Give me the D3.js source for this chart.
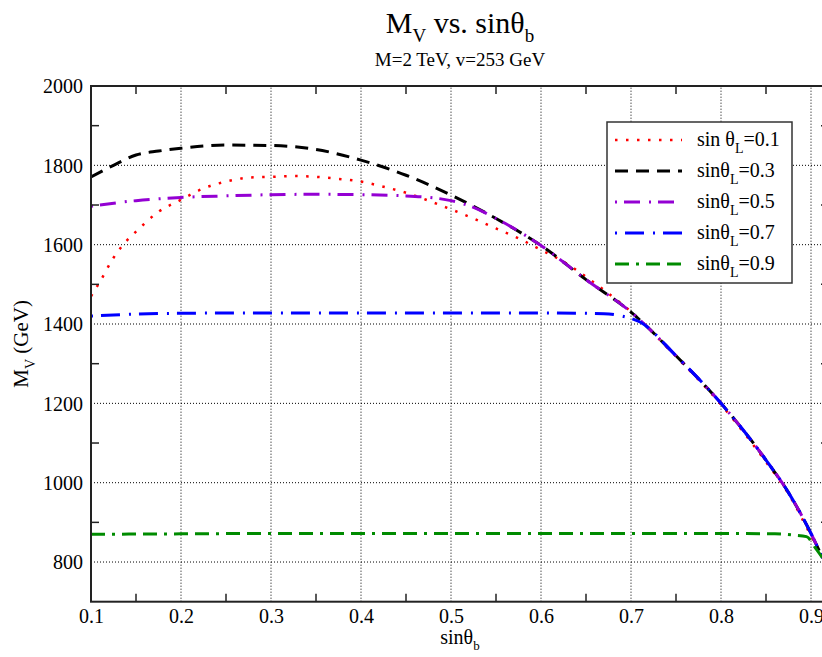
<!doctype html>
<html>
<head>
<meta charset="utf-8">
<script src="https://d3js.org/d3.v7.min.js"></script>
<style>
  body { margin: 0; background: #fff; }
  svg text { font-family: "Liberation Serif", "Times New Roman", Times, serif !important; fill: #000; }
</style>
</head>
<body>
<div id="chart"></div>
<script>
// data
var xMajor = [0.1, 0.2, 0.3, 0.4, 0.5, 0.6, 0.7, 0.8, 0.9];
var xMinor = [0.15, 0.25, 0.35, 0.45, 0.55, 0.65, 0.75, 0.85];
var yMajor = [800, 1000, 1200, 1400, 1600, 1800, 2000];
var yMinor = [900, 1100, 1300, 1500, 1700, 1900];

var sinB_01 = [0.1, 0.11, 0.125, 0.14, 0.15, 0.175, 0.2, 0.225, 0.25, 0.275, 0.3, 0.325, 0.35, 0.375, 0.4, 0.425, 0.45, 0.475, 0.5, 0.525, 0.55, 0.575, 0.6, 0.625, 0.65, 0.675, 0.7, 0.75, 0.8, 0.85, 0.875, 0.9, 0.913];
var mv_01   = [1470, 1507, 1567, 1611, 1633, 1683, 1713, 1742, 1759, 1769, 1771, 1773, 1771, 1766, 1759, 1746, 1731, 1711, 1689, 1666, 1641, 1616, 1587, 1557, 1519, 1477, 1431, 1318, 1197, 1052, 972, 866, 810];

var sinB_03 = [0.1, 0.125, 0.15, 0.175, 0.2, 0.25, 0.3, 0.35, 0.4, 0.45, 0.5, 0.55, 0.6, 0.65, 0.7, 0.75, 0.8, 0.85, 0.875, 0.9, 0.913];
var mv_03   = [1771, 1800, 1826, 1836, 1843, 1851, 1850, 1840, 1813, 1775, 1725, 1666, 1598, 1512, 1430, 1320, 1200, 1057, 975, 872, 810];

var sinB_05 = [0.1, 0.15, 0.2, 0.25, 0.3, 0.35, 0.4, 0.45, 0.5, 0.525, 0.55, 0.6, 0.65, 0.7, 0.75, 0.8, 0.85, 0.875, 0.9, 0.913];
var mv_05   = [1697, 1711, 1719, 1723, 1726, 1727, 1726, 1723, 1711, 1694, 1666, 1598, 1512, 1430, 1320, 1200, 1057, 975, 872, 810];

var sinB_07 = [0.1, 0.15, 0.2, 0.3, 0.4, 0.5, 0.6, 0.65, 0.67, 0.69, 0.71, 0.75, 0.8, 0.85, 0.875, 0.9, 0.913];
var mv_07   = [1420, 1425, 1427, 1428, 1428, 1428, 1428, 1427, 1426, 1420, 1405, 1320, 1200, 1057, 975, 872, 810];

var sinB_09 = [0.1, 0.2, 0.3, 0.4, 0.5, 0.6, 0.7, 0.8, 0.86, 0.88, 0.895, 0.905, 0.913];
var mv_09   = [870, 871, 872, 872, 872, 872, 872, 872, 871, 868, 864, 835, 810];

var series = [
  {label: "sin θ", val: "=0.1", xs: sinB_01, ys: mv_01, color: "#ff0000", dash: "2.5,8.5", w: 2.5},
  {label: "sinθ",  val: "=0.3", xs: sinB_03, ys: mv_03, color: "#000000", dash: "13,8", w: 3},
  {label: "sinθ",  val: "=0.5", xs: sinB_05, ys: mv_05, color: "#9400d3", dash: "2,7,16,9", w: 3},
  {label: "sinθ",  val: "=0.7", xs: sinB_07, ys: mv_07, color: "#0000ff", dash: "2,8,19,9", w: 3},
  {label: "sinθ",  val: "=0.9", xs: sinB_09, ys: mv_09, color: "#008b00", dash: "14,7,3,7,14,7", w: 3}
];

var W = 822, H = 657;
var margin = {top: 86, left: 91};
var plotW = 738, plotH = 515.7;

var svg = d3.select("#chart").append("svg")
    .attr("width", W).attr("height", H);

var x = d3.scaleLinear().domain([0.1, 0.92]).range([margin.left, margin.left + plotW]);
var y = d3.scaleLinear().domain([700, 2000]).range([margin.top + plotH, margin.top]);

svg.append("clipPath").attr("id", "clip")
  .append("rect").attr("x", x(0.1)).attr("y", y(2000))
  .attr("width", plotW).attr("height", plotH);

// grid lines (dotted)
var grid = svg.append("g").attr("stroke", "#000").attr("stroke-width", 1).attr("stroke-dasharray", "1,2");
grid.selectAll("line.gx").data(xMajor.slice(1)).enter().append("line")
  .attr("x1", d => x(d)).attr("x2", d => x(d))
  .attr("y1", y(700)).attr("y2", y(2000));
grid.selectAll("line.gy").data(yMajor.slice(0, -1)).enter().append("line")
  .attr("x1", x(0.1)).attr("x2", x(0.92))
  .attr("y1", d => y(d)).attr("y2", d => y(d));

// curves
var line = d3.line().curve(d3.curveMonotoneX);
var curves = svg.append("g").attr("clip-path", "url(#clip)");
series.forEach(function(s) {
  curves.append("path")
    .datum(s.xs.map((v, i) => [x(v), y(s.ys[i])]))
    .attr("fill", "none")
    .attr("stroke", s.color)
    .attr("stroke-width", s.w)
    .attr("stroke-dasharray", s.dash)
    .attr("d", line);
});

// frame
svg.append("rect")
  .attr("x", x(0.1)).attr("y", y(2000))
  .attr("width", plotW).attr("height", plotH)
  .attr("fill", "none").attr("stroke", "#222").attr("stroke-width", 2);

// minor ticks (inward) on all four sides
var ticks = svg.append("g").attr("stroke", "#222").attr("stroke-width", 1.5);
xMinor.forEach(function(v) {
  ticks.append("line").attr("x1", x(v)).attr("x2", x(v)).attr("y1", y(700)).attr("y2", y(700) - 8);
  ticks.append("line").attr("x1", x(v)).attr("x2", x(v)).attr("y1", y(2000)).attr("y2", y(2000) + 8);
});
yMinor.forEach(function(v) {
  ticks.append("line").attr("x1", x(0.1)).attr("x2", x(0.1) + 8).attr("y1", y(v)).attr("y2", y(v));
  ticks.append("line").attr("x1", x(0.92)).attr("x2", x(0.92) - 8).attr("y1", y(v)).attr("y2", y(v));
});

// tick labels
svg.append("g").attr("transform", "translate(0," + y(700) + ")")
  .call(d3.axisBottom(x).tickValues(xMajor).tickSize(0).tickFormat(d3.format(".1f")))
  .call(g => g.select(".domain").remove())
  .selectAll("text")
    .attr("y", 21.5).attr("dy", 0)
    .style("font-size", "20px");

svg.append("g").attr("transform", "translate(" + x(0.1) + ",0)")
  .call(d3.axisLeft(y).tickValues(yMajor).tickSize(0).tickPadding(8).tickFormat(d3.format("d")))
  .call(g => g.select(".domain").remove())
  .selectAll("text")
    .attr("dy", "0.34em")
    .style("font-size", "20px");

// title
var title = svg.append("text").attr("x", 460).attr("y", 33).attr("text-anchor", "middle").style("font-size", "30px");
title.append("tspan").text("M");
title.append("tspan").attr("dy", 9).style("font-size", "19px").text("V");
title.append("tspan").attr("dy", -9).text(" vs. sinθ");
title.append("tspan").attr("dy", 9).style("font-size", "19px").text("b");

svg.append("text").attr("x", 460).attr("y", 66).attr("text-anchor", "middle")
  .style("font-size", "19px").text("M=2 TeV, v=253 GeV");

// axis titles
var xl = svg.append("text").attr("x", 460).attr("y", 644).attr("text-anchor", "middle").style("font-size", "20px");
xl.append("tspan").text("sinθ");
xl.append("tspan").attr("dy", 6).style("font-size", "13px").text("b");

var yl = svg.append("text").attr("transform", "translate(28," + (margin.top + plotH / 2) + ") rotate(-90)")
  .attr("text-anchor", "middle").style("font-size", "21px");
yl.append("tspan").text("M");
yl.append("tspan").attr("dy", 7).style("font-size", "14px").text("V");
yl.append("tspan").attr("dy", -7).text(" (GeV)");

// legend
var legend = svg.append("g");
legend.append("rect").attr("x", 607).attr("y", 122).attr("width", 185).attr("height", 161)
  .attr("fill", "#fff").attr("stroke", "#333").attr("stroke-width", 1.5);
series.forEach(function(s, i) {
  var ly = 140 + i * 31;
  legend.append("line").attr("x1", 615).attr("x2", 682).attr("y1", ly).attr("y2", ly)
    .attr("stroke", s.color).attr("stroke-width", s.w).attr("stroke-dasharray", s.dash);
  var t = legend.append("text").attr("x", 697).attr("y", ly + 6).style("font-size", "20px");
  t.append("tspan").text(s.label);
  t.append("tspan").attr("dy", 7).style("font-size", "14px").text("L");
  t.append("tspan").attr("dy", -7).text(s.val);
});
</script>
</body>
</html>
